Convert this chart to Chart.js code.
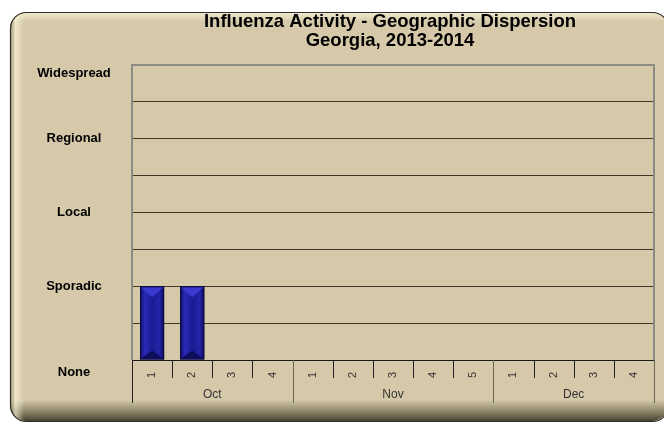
<!DOCTYPE html>
<html>
<head>
<meta charset="utf-8">
<script src="https://cdn.jsdelivr.net/npm/chart.js@4"></script>
<style>
  html, body { margin: 0; padding: 0; background: #fff; }
  #wrap { width: 664px; height: 424px; }
</style>
</head>
<body>
<div id="wrap"><canvas id="chart" width="664" height="424"></canvas></div>
<script>
// =========================================================================
// Data
// =========================================================================
const weekLabels = ["1", "2", "3", "4", "1", "2", "3", "4", "5", "1", "2", "3", "4"];
const months = ["Oct", "Nov", "Dec"];
const weeksPerMonth = [4, 5, 4];
const activity = [2, 2, 0, 0, 0, 0, 0, 0, 0, 0, 0, 0, 0];
const levelValues = [0, 2, 4, 6, 8];
const levelNames = ["None", "Sporadic", "Local", "Regional", "Widespread"];
const titleLines = ["Influenza Activity - Geographic Dispersion", "Georgia, 2013-2014"];

const BEIGE = "#d5c9a9";
const FONT = "'Liberation Sans', Arial, sans-serif";

// =========================================================================
// Plugins
// =========================================================================

// Bevelled panel behind the chart
const panelPlugin = {
  id: "panel",
  beforeDraw(chart) {
    const ctx = chart.ctx;
    const x0 = 10, y0 = 12, x1 = 668, y1 = 421, r = 16;
    ctx.save();
    ctx.fillStyle = "#fff";
    ctx.fillRect(0, 0, chart.width, chart.height);

    ctx.beginPath();
    ctx.roundRect(x0, y0, x1 - x0, y1 - y0, r);
    ctx.fillStyle = BEIGE;
    ctx.fill();

    ctx.save();
    ctx.clip();
    // bottom shadow band
    const g = ctx.createLinearGradient(0, 400, 0, y1);
    g.addColorStop(0, "rgba(80,76,55,0)");
    g.addColorStop(0.6, "rgba(80,76,55,0.6)");
    g.addColorStop(1, "rgba(60,58,40,0.95)");
    ctx.fillStyle = g;
    ctx.fillRect(x0, 400, x1 - x0, y1 - 400);
    // left highlight / shade
    const gl = ctx.createLinearGradient(x0, 0, x0 + 14, 0);
    gl.addColorStop(0, "rgba(120,112,80,0.6)");
    gl.addColorStop(0.4, "rgba(255,250,225,0.6)");
    gl.addColorStop(1, "rgba(255,250,225,0)");
    ctx.fillStyle = gl;
    ctx.fillRect(x0, y0, 14, y1 - y0);
    // top highlight
    const gt = ctx.createLinearGradient(0, y0, 0, y0 + 10);
    gt.addColorStop(0, "rgba(255,250,225,0.7)");
    gt.addColorStop(1, "rgba(255,250,225,0)");
    ctx.fillStyle = gt;
    ctx.fillRect(x0, y0, x1 - x0, 10);
    ctx.restore();

    ctx.beginPath();
    ctx.roundRect(x0 + 0.5, y0 + 0.5, x1 - x0, y1 - y0, r);
    ctx.strokeStyle = "#2e2e28";
    ctx.lineWidth = 1.2;
    ctx.stroke();
    ctx.restore();
  },
};

// Two-line title centred on the plot area, level names on the left
const textPlugin = {
  id: "texts",
  afterDraw(chart) {
    const ctx = chart.ctx;
    const a = chart.chartArea;
    const y = chart.scales.y;
    const cx = (a.left + a.right) / 2 - 3;
    ctx.save();
    ctx.fillStyle = "#000";
    ctx.font = "bold 18.5px " + FONT;
    ctx.textAlign = "center";
    ctx.textBaseline = "middle";
    ctx.fillText(titleLines[0], cx, 22);
    ctx.fillText(titleLines[1], cx, 41);

    // level names: the end ones sit inside the frame in the original
    ctx.font = "bold 13px " + FONT;
    levelValues.forEach((v, i) => {
      let py = y.getPixelForValue(v);
      if (v === y.max) py += 8;
      if (v === y.min) py += 12;
      ctx.fillText(levelNames[i], 74, py);
    });
    ctx.restore();
  },
};

// Plot frame, week / month dividers and month labels
const axisPlugin = {
  id: "axisDecor",
  afterDraw(chart) {
    const ctx = chart.ctx;
    const a = chart.chartArea;
    const x = chart.scales.x;
    const step = (x.getPixelForValue(1) - x.getPixelForValue(0));
    ctx.save();
    // frame
    ctx.strokeStyle = "#8c8a84";
    ctx.lineWidth = 2;
    ctx.beginPath();
    ctx.moveTo(a.left, a.bottom);
    ctx.lineTo(a.left, a.top);
    ctx.lineTo(a.right, a.top);
    ctx.lineTo(a.right, a.bottom);
    ctx.stroke();
    // bottom axis line
    ctx.strokeStyle = "#1a1a1a";
    ctx.lineWidth = 1;
    ctx.beginPath();
    ctx.moveTo(a.left, a.bottom + 0.5);
    ctx.lineTo(a.right, a.bottom + 0.5);
    ctx.stroke();

    // week dividers
    ctx.strokeStyle = "#222";
    for (let i = 0; i <= weekLabels.length; i++) {
      const px = Math.round(x.getPixelForValue(i) - step / 2) + 0.5;
      ctx.beginPath();
      ctx.moveTo(px, a.bottom);
      ctx.lineTo(px, a.bottom + 18);
      ctx.stroke();
    }
    // month dividers and labels
    let start = 0;
    ctx.font = "12px " + FONT;
    ctx.fillStyle = "#333";
    ctx.textAlign = "center";
    ctx.textBaseline = "middle";
    for (let m = 0; m <= months.length; m++) {
      const px = Math.round(x.getPixelForValue(start) - step / 2) + 0.5;
      ctx.strokeStyle = m === 0 ? "#222" : "#6a665a";
      ctx.beginPath();
      ctx.moveTo(px, a.bottom);
      ctx.lineTo(px, a.bottom + 43);
      ctx.stroke();
      if (m < months.length) {
        const end = start + weeksPerMonth[m];
        const left = x.getPixelForValue(start) - step / 2;
        const right = x.getPixelForValue(end) - step / 2;
        ctx.fillText(months[m], (left + right) / 2, a.bottom + 35);
        start = end;
      }
    }
    ctx.restore();
  },
};

// Bevel highlights on the bars
const bevelPlugin = {
  id: "bevel",
  afterDatasetsDraw(chart) {
    const ctx = chart.ctx;
    const meta = chart.getDatasetMeta(0);
    ctx.save();
    meta.data.forEach((bar) => {
      const { x, y, base, width } = bar.getProps(["x", "y", "base", "width"], true);
      if (Math.abs(base - y) < 1) return;
      const l = x - width / 2, r = x + width / 2, t = y, b = base;
      const g = ctx.createLinearGradient(l, 0, r, 0);
      g.addColorStop(0, "#10106a");
      g.addColorStop(0.2, "#2a2ab8");
      g.addColorStop(0.5, "#1a1a92");
      g.addColorStop(0.8, "#2424a8");
      g.addColorStop(1, "#0c0c60");
      ctx.fillStyle = g;
      ctx.fillRect(l, t, width, b - t);
      // top bevel triangle
      ctx.fillStyle = "#3a3ad0";
      ctx.beginPath();
      ctx.moveTo(l + 1, t + 1);
      ctx.lineTo(r - 1, t + 1);
      ctx.lineTo(x, t + 11);
      ctx.closePath();
      ctx.fill();
      // bottom bevel
      ctx.fillStyle = "#0e0e5a";
      ctx.beginPath();
      ctx.moveTo(l + 1, b - 1);
      ctx.lineTo(r - 1, b - 1);
      ctx.lineTo(x, b - 9);
      ctx.closePath();
      ctx.fill();
      ctx.strokeStyle = "#08083a";
      ctx.lineWidth = 1;
      ctx.strokeRect(l + 0.5, t + 0.5, width - 1, b - t - 1);
    });
    ctx.restore();
  },
};

// =========================================================================
// Chart
// =========================================================================
new Chart(document.getElementById("chart"), {
  type: "bar",
  data: {
    labels: weekLabels,
    datasets: [
      {
        data: activity,
        backgroundColor: "#1a1a92",
        borderColor: "#08083a",
        borderWidth: 1,
        categoryPercentage: 1,
        barPercentage: 0.6,
      },
    ],
  },
  options: {
    responsive: false,
    animation: false,
    layout: { padding: { left: 10, right: 10, top: 65, bottom: 0 } },
    plugins: {
      legend: { display: false },
      title: { display: false },
      tooltip: { enabled: false },
    },
    scales: {
      x: {
        afterFit: (s) => { s.height = 64; },
        grid: { display: false },
        border: { display: false },
        ticks: {
          minRotation: 90,
          maxRotation: 90,
          padding: 4,
          color: "#333",
          font: { family: FONT, size: 11 },
        },
      },
      y: {
        min: 0,
        max: 8,
        afterFit: (s) => { s.width = 122; },
        border: { display: false },
        grid: {
          color: (c) => (c.tick.value === 0 || c.tick.value === 8 ? "rgba(0,0,0,0)" : "#3e3828"),
          drawTicks: false,
        },
        ticks: {
          stepSize: 1,
          display: false,
        },
      },
    },
  },
  plugins: [panelPlugin, textPlugin, axisPlugin, bevelPlugin],
});
</script>
</body>
</html>
